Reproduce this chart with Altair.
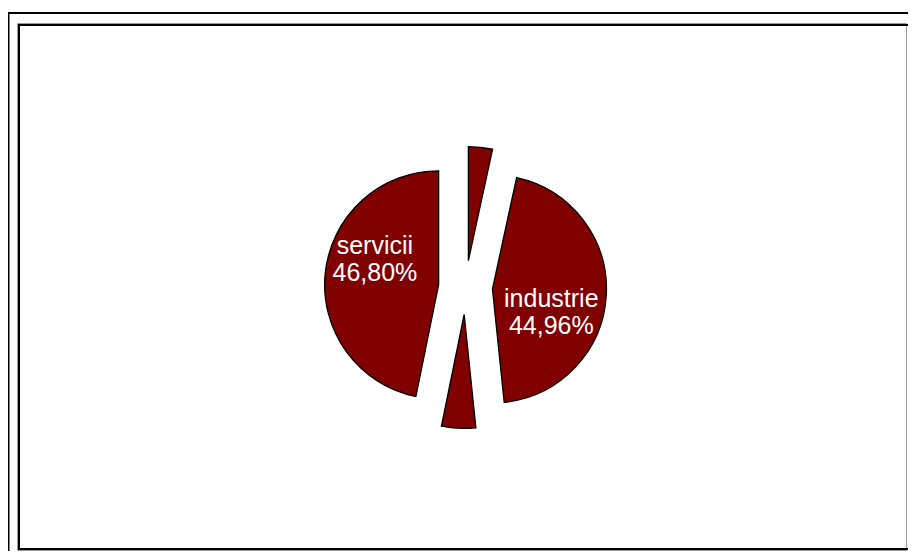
import altair as alt
import pandas as pd

# ---- data ----
categories = ["agricultura", "industrie", "constructii", "servicii"]
values = [3.40, 44.96, 4.84, 46.80]

df = pd.DataFrame({
    "order": list(range(len(categories))),
    "cat": categories,
    "value": values,
})
df["label"] = [f"{c}\n{v:.2f}%".replace(".", ",") for c, v in zip(categories, values)]

# ---- layout constants (chart coords = page coords - 8) ----
W, H = 900, 543
CX, CY = 457.5, 279.5   # pie centre
R = 114                 # pie radius
EXPL = 27               # explosion distance
LR = 92                 # label distance from centre

base = (
    alt.Chart(df)
    .transform_joinaggregate(total="sum(value)")
    .transform_window(cum="sum(value)", sort=[alt.SortField("order")])
    .transform_calculate(
        t0="2*PI*(datum.cum - datum.value)/datum.total",
        t1="2*PI*datum.cum/datum.total",
    )
    .transform_calculate(mid="(datum.t0 + datum.t1)/2")
    .transform_calculate(
        px=f"{CX} + {EXPL}*sin(datum.mid)",
        py=f"{CY} - {EXPL}*cos(datum.mid)",
        lx=f"{CX} + {LR}*sin(datum.mid + 12*PI/180)",
        ly=f"{CY} - {LR}*cos(datum.mid + 12*PI/180) - 5",
    )
)

slices = base.mark_arc(
    outerRadius=R, fill="#800000", stroke="#000000", strokeWidth=1.3
).encode(
    theta=alt.Theta("t0:Q", scale=None),
    theta2="t1:Q",
    x=alt.X("px:Q", scale=None, axis=None),
    y=alt.Y("py:Q", scale=None, axis=None),
)

texts = base.transform_filter("datum.value > 10").mark_text(
    color="white", font="Liberation Sans", fontSize=25, align="center",
    baseline="alphabetic", lineBreak="\n", lineHeight=27, dx=-3,
).encode(
    x=alt.X("lx:Q", scale=None, axis=None),
    y=alt.Y("ly:Q", scale=None, axis=None),
    text="label:N",
)

frame_df = pd.DataFrame({"k": [0]})
outer = alt.Chart(frame_df).mark_rect(
    fillOpacity=0, stroke="#000000", strokeWidth=2
).encode(x=alt.value(0.5), y=alt.value(5), x2=alt.value(1000), y2=alt.value(1000))
inner_shadow = alt.Chart(frame_df).mark_rect(
    fillOpacity=0, stroke="#9a9a9a", strokeWidth=1
).encode(x=alt.value(9.5), y=alt.value(15.5), x2=alt.value(898.5), y2=alt.value(542.5))
inner = alt.Chart(frame_df).mark_rect(
    fillOpacity=0, stroke="#000000", strokeWidth=2
).encode(x=alt.value(11), y=alt.value(17), x2=alt.value(905), y2=alt.value(541))

chart = alt.layer(outer, inner_shadow, inner, slices, texts).properties(
    width=W, height=H,
    autosize=alt.AutoSizeParams(type="none"),
    padding=0,
    background="white",
).configure_view(stroke=None)

chart.save("out.html", embed_options={"renderer": "svg", "actions": False})
